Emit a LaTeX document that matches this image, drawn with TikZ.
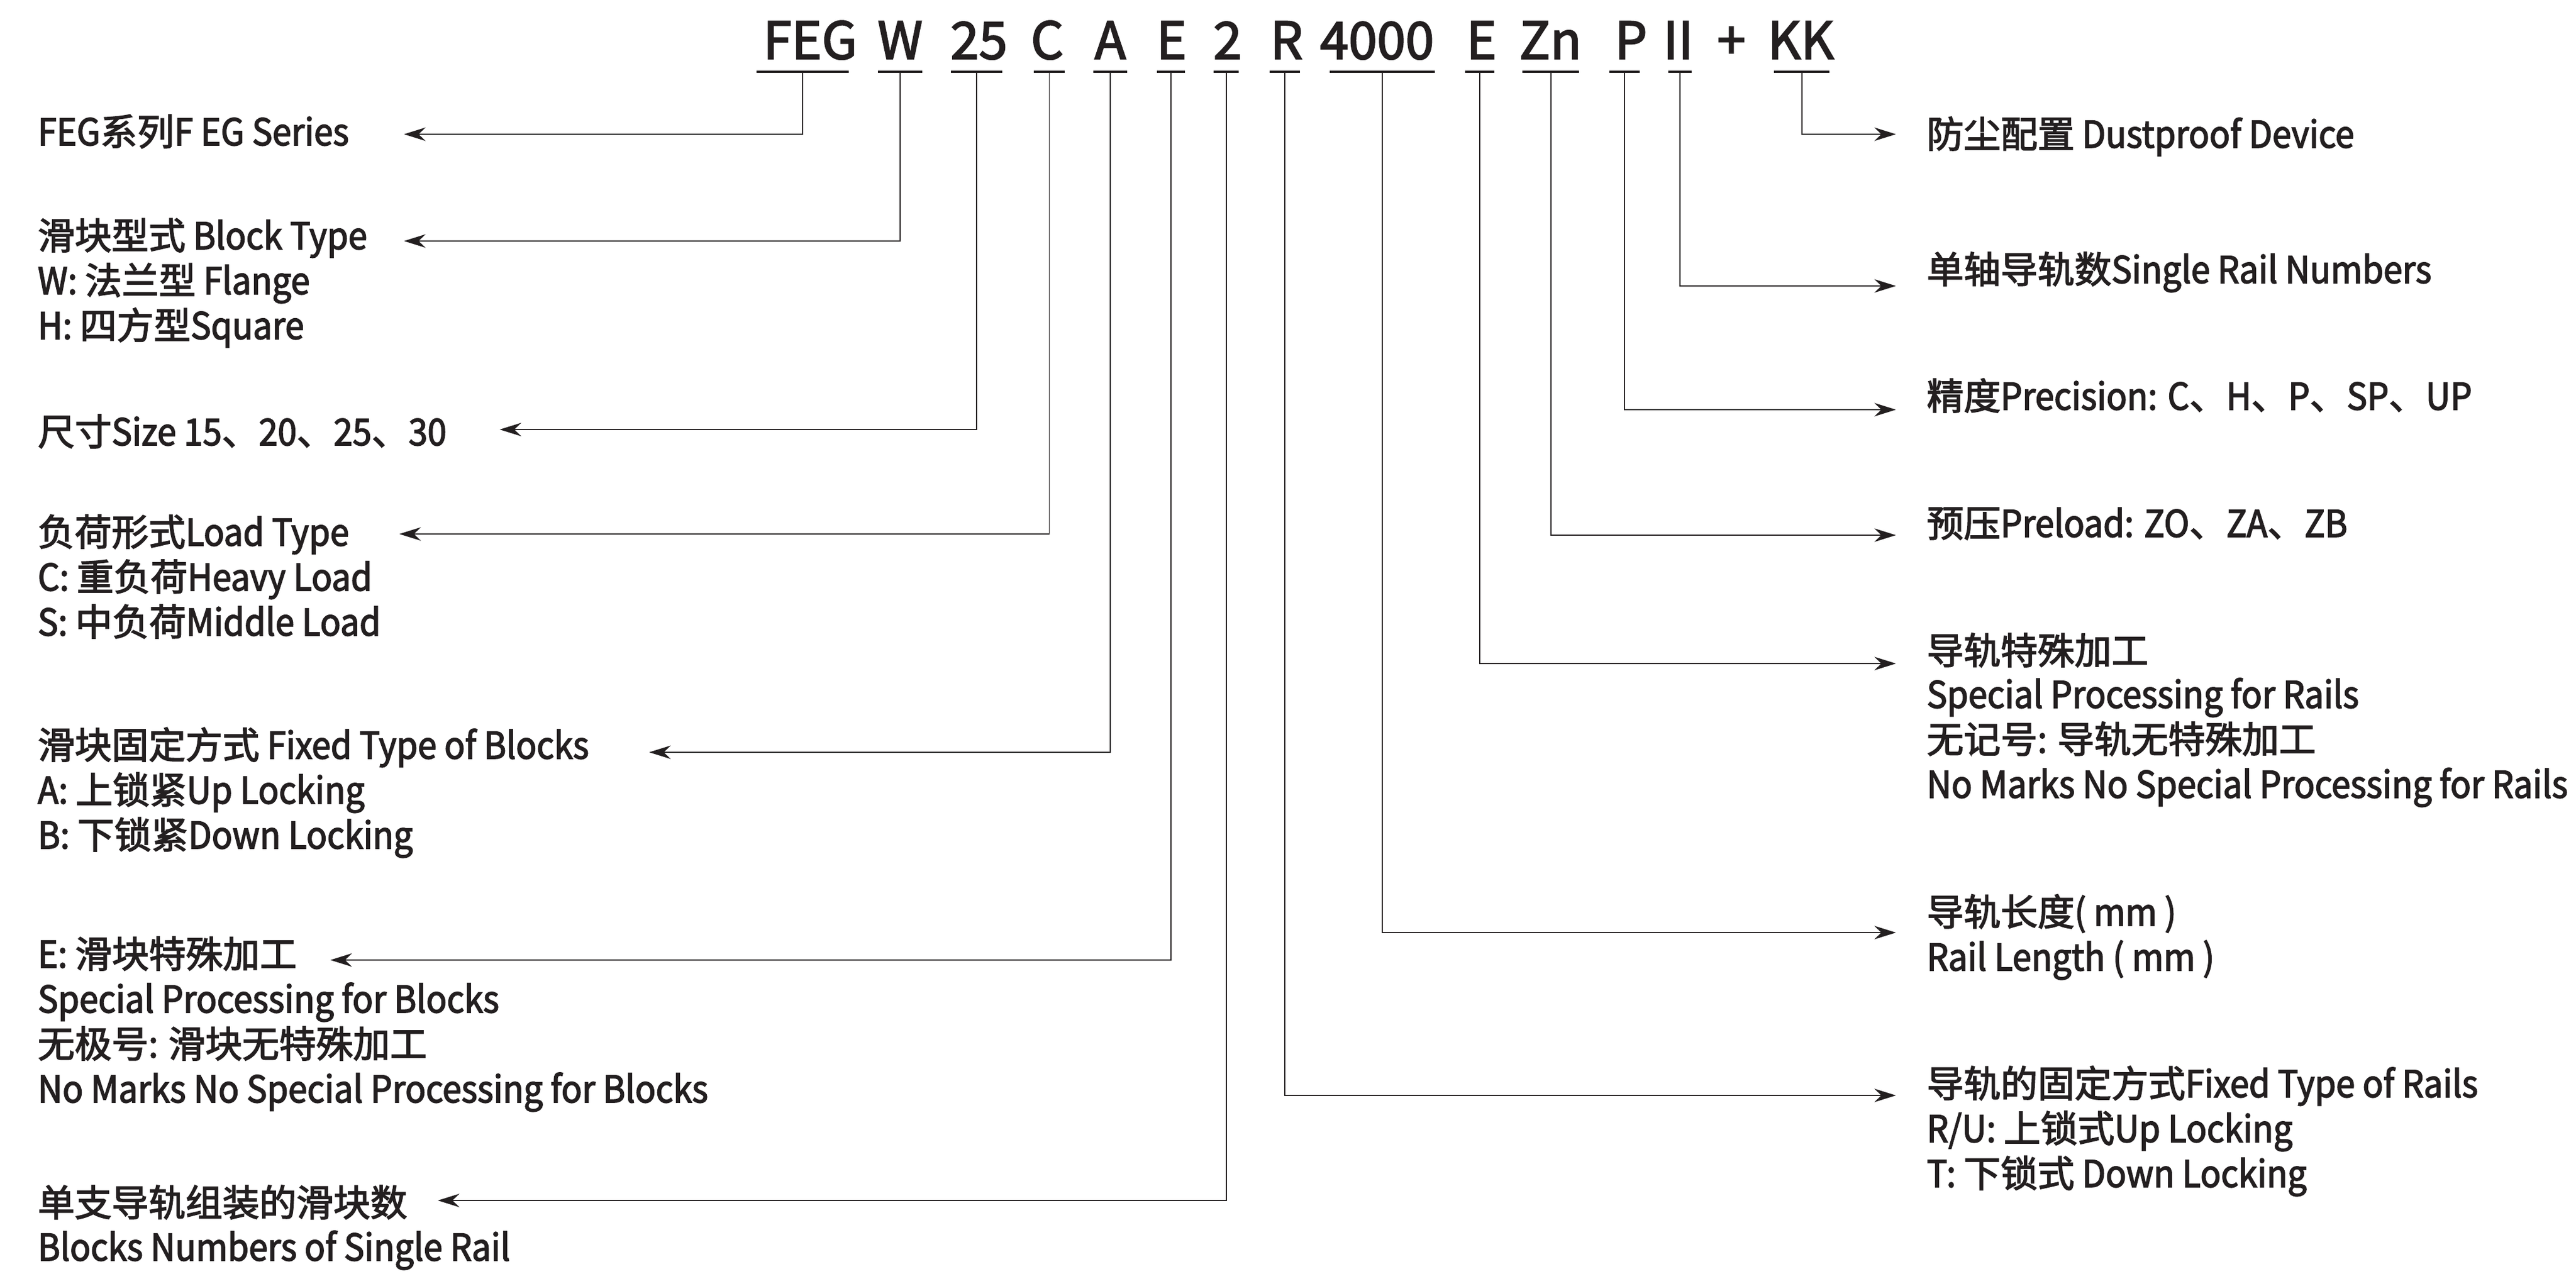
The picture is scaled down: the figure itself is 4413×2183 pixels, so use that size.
\documentclass[tikz,border=0pt]{standalone}
\usepackage{fontspec}
\setmainfont{Noto Sans CJK SC}[FakeStretch=0.925, FakeBold=2.5]
\newfontfamily\zhfont{Noto Sans CJK SC}[FakeBold=2.5]
\newcommand{\zh}[1]{{\zhfont #1}}
\usetikzlibrary{arrows.meta}
\definecolor{ink}{RGB}{35,31,32}

\begin{document}
\begin{tikzpicture}[x=0.01cm, y=-0.01cm, color=ink,
        every node/.style={inner sep=0pt, anchor=base west, font=\fontsize{18}{22}\selectfont},
        code/.style={anchor=base, font=\fontsize{25}{30}\selectfont\zhfont},
        uline/.style={line width=0.9pt},
        link/.style={line width=0.55pt, -{Stealth[length=0.37cm, width=0.23cm, inset=0.12cm]}}]
        \useasboundingbox (0,0) rectangle (4413,2183);

        % Model code with its underlines
        \foreach \nm/\txt/\cx/\ua/\ub in {FEG/FEG/1388/1296/1454, W/W/1542/1504/1580,
                25/25/1677/1629/1717, C/C/1794/1771/1824, A/A/1902/1873/1931,
                E/E/2007/1982/2030, 2/2/2103/2079/2122, R/R/2204/2175/2227,
                4000/4000/2359/2278/2458, ER/E/2538/2510/2560, Zn/Zn/2656/2608/2705,
                P/P/2794/2757/2809, II/II/2875/2858/2898, KK/KK/3085/3039/3134}{
            \node[code] (c\nm) at (\cx,101) {\txt};
            \draw[uline] (\ua,123) -- (\ub,123);
            \coordinate (u\nm) at ({(\ua+\ub)/2},123);
        }
        \node[code] (cplus) at (2966,101) {+};

        % Left: block side
        \node (ser) at (64,249) {FEG\zh{系列}F EG Series};
        \node (blk) at (64,427) {\zh{滑块型式} Block Type};
        \node (blkW) at (64,504) {W: \zh{法兰型} Flange};
        \node (blkH) at (64,581) {H: \zh{四方型}Square};
        \node (size) at (64,763) {\zh{尺寸}Size 15\zh{、}20\zh{、}25\zh{、}30};
        \node (load) at (64,935) {\zh{负荷形式}Load Type};
        \node (loadC) at (64,1012) {C: \zh{重负荷}Heavy Load};
        \node (loadS) at (64,1089) {S: \zh{中负荷}Middle Load};
        \node (fix) at (64,1300) {\zh{滑块固定方式} Fixed Type of Blocks};
        \node (fixA) at (64,1377) {A: \zh{上锁紧}Up Locking};
        \node (fixB) at (64,1454) {B: \zh{下锁紧}Down Locking};
        \node (bsp) at (64,1658) {E: \zh{滑块特殊加工}};
        \node (bsp2) at (64,1735) {Special Processing for Blocks};
        \node (bsp3) at (64,1812) {\zh{无极号}: \zh{滑块无特殊加工}};
        \node (bsp4) at (64,1889) {No Marks No Special Processing for Blocks};
        \node (bnum) at (64,2084) {\zh{单支导轨组装的滑块数}};
        \node (bnum2) at (64,2160) {Blocks Numbers of Single Rail};

        % Right: rail side
        \node (dust) at (3300,253) {\zh{防尘配置} Dustproof Device};
        \node (rnum) at (3300,485) {\zh{单轴导轨数}Single Rail Numbers};
        \node (prec) at (3300,702) {\zh{精度}Precision: C\zh{、}H\zh{、}P\zh{、}SP\zh{、}UP};
        \node (pre) at (3300,920) {\zh{预压}Preload: ZO\zh{、}ZA\zh{、}ZB};
        \node (rsp) at (3300,1138) {\zh{导轨特殊加工}};
        \node (rsp2) at (3300,1213) {Special Processing for Rails};
        \node (rsp3) at (3300,1290) {\zh{无记号}: \zh{导轨无特殊加工}};
        \node (rsp4) at (3300,1367) {No Marks No Special Processing for Rails};
        \node (len) at (3300,1586) {\zh{导轨长度}( mm )};
        \node (len2) at (3300,1663) {Rail Length ( mm )};
        \node (rfix) at (3300,1880) {\zh{导轨的固定方式}Fixed Type of Rails};
        \node (rfixU) at (3300,1957) {R/U: \zh{上锁式}Up Locking};
        \node (rfixT) at (3300,2034) {T: \zh{下锁式} Down Locking};

        % Arrow tips
        \coordinate (tser) at (692,230);
        \coordinate (tblk) at (692,413);
        \coordinate (tsize) at (856,736);
        \coordinate (tload) at (684,915);
        \coordinate (tfix) at (1112,1289);
        \coordinate (tbsp) at (566,1645);
        \coordinate (tbnum) at (750,2057);
        \coordinate (tdust) at (3248,230);
        \coordinate (trnum) at (3248,490);
        \coordinate (tprec) at (3248,702);
        \coordinate (tpre) at (3248,917);
        \coordinate (trsp) at (3248,1137);
        \coordinate (tlen) at (3248,1598);
        \coordinate (trfix) at (3248,1877);

        % Connectors
        \draw[link] (uFEG) |- (tser);
        \draw[link] (uW) |- (tblk);
        \draw[link] (u25) |- (tsize);
        \draw[link] (uC) |- (tload);
        \draw[link] (uA) |- (tfix);
        \draw[link] (uE) |- (tbsp);
        \draw[link] (u2) |- (tbnum);
        \draw[link] (uKK) |- (tdust);
        \draw[link] (uII) |- (trnum);
        \draw[link] (uP) |- (tprec);
        \draw[link] (uZn) |- (tpre);
        \draw[link] (uER) |- (trsp);
        \draw[link] (u4000) |- (tlen);
        \draw[link] (uR) |- (trfix);
\end{tikzpicture}
\end{document}
